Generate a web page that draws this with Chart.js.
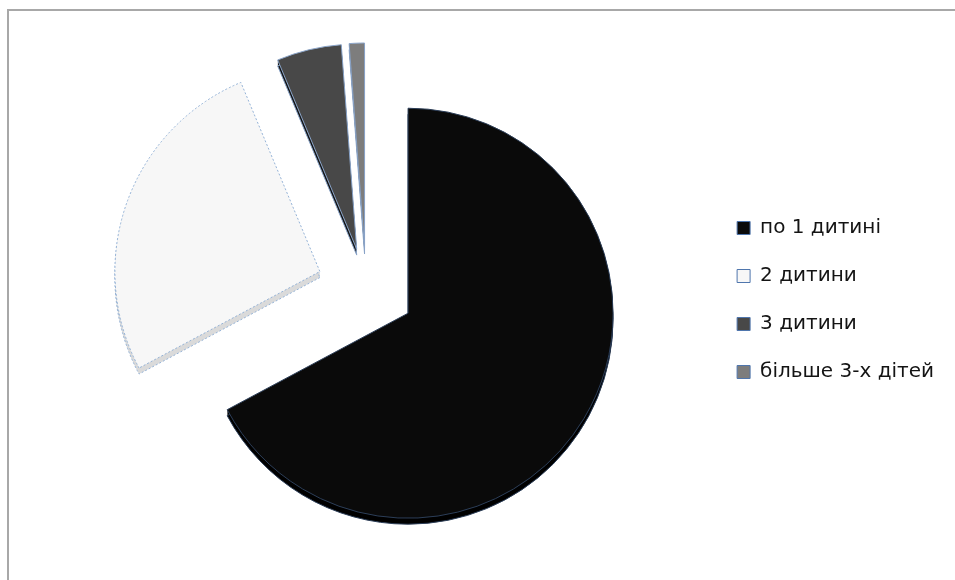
<!DOCTYPE html>
<html lang="uk">
<head>
<meta charset="UTF-8">
<title>Кількість дітей у сім'ї</title>
<script src="https://cdn.jsdelivr.net/npm/chart.js"></script>
<style>
  html, body { margin: 0; padding: 0; background: #fff; overflow: hidden; }
  .frame {
    position: absolute; left: 7px; top: 9px; width: 1000px; height: 1000px;
    border-left: 2px solid #a8a8a8; border-top: 2px solid #a8a8a8;
  }
  .wrap { position: absolute; left: 0; top: 0; width: 955px; height: 580px; }
</style>
</head>
<body>
<div class="frame"></div>
<div class="wrap"><canvas id="childrenChart"></canvas></div>
<script>
  const categories = ['по 1 дитині', '2 дитини', '3 дитини', 'більше 3-х дітей'];
  const shares = [67.2, 26.5, 5.1, 1.2];
  const sliceColors = ['#0a0a0a', '#f7f7f7', '#484848', '#7d7d7d'];
  const edgeColors = ['#2c3e58', '#95b3d7', '#8aa4c8', '#8aa4c8'];
  const sideColors = ['#000000', '#dadada', '#141414', '#3c3c3c'];

  const EXPLODE_BIG = 49;   // how far the two big slices are pulled out
  const EXPLODE_THIN = 40;  // the two thin ones sit a bit closer
  const DEPTH = 6;          // thickness of the pie

  // pulls the slices apart and paints their side walls underneath
  const pie3d = {
    id: 'pie3d',
    beforeDatasetsDraw(chart) {
      const area = chart.chartArea;
      const cx = (area.left + area.right) / 2;
      const cy = (area.top + area.bottom) / 2;
      const ctx = chart.ctx;
      const arcs = chart.getDatasetMeta(0).data;

      arcs.forEach(arc => {
        const mid = (arc.startAngle + arc.endAngle) / 2;
        const dist = arc.circumference > 0.5 ? EXPLODE_BIG : EXPLODE_THIN;
        arc.x = cx + Math.cos(mid) * dist;
        arc.y = cy + Math.sin(mid) * dist;
      });

      ctx.save();
      arcs.forEach((arc, i) => {
        ctx.fillStyle = sideColors[i];
        for (let d = 1; d <= DEPTH; d++) {
          ctx.beginPath();
          ctx.moveTo(arc.x, arc.y + d);
          ctx.arc(arc.x, arc.y + d, arc.outerRadius, arc.startAngle, arc.endAngle);
          ctx.closePath();
          ctx.fill();
        }
        ctx.strokeStyle = edgeColors[i];
        ctx.lineWidth = 1;
        ctx.setLineDash(i === 1 ? [2, 2] : []);
        ctx.stroke();
      });
      ctx.restore();
    }
  };

  const ctx = document.getElementById('childrenChart').getContext('2d');
  new Chart(ctx, {
    type: 'pie',
    data: {
      labels: categories,
      datasets: [{
        data: shares,
        backgroundColor: sliceColors,
        borderColor: edgeColors,
        borderWidth: 1,
        borderDash: c => (c.dataIndex === 1 ? [2, 2] : []),
        radius: 205,
        hoverOffset: 0
      }]
    },
    options: {
      responsive: true,
      maintainAspectRatio: false,
      animation: false,
      events: [],
      layout: { padding: { left: 23, right: 11, top: 20, bottom: 24 } },
      plugins: {
        tooltip: { enabled: false },
        legend: {
          position: 'right',
          // empty title only nudges the legend rows down a little
          title: { display: true, text: '', font: { size: 10 }, padding: { top: 12, bottom: 0 } },
          labels: {
            boxWidth: 13,
            boxHeight: 13,
            padding: 28,
            font: { family: 'DejaVu Sans', size: 20 },
            generateLabels: () => categories.map((text, i) => ({
              text,
              fillStyle: sliceColors[i],
              strokeStyle: '#4f76ad',
              fontColor: '#141414',
              lineWidth: 1,
              hidden: false,
              index: i
            }))
          }
        }
      }
    },
    plugins: [pie3d]
  });
</script>
</body>
</html>
